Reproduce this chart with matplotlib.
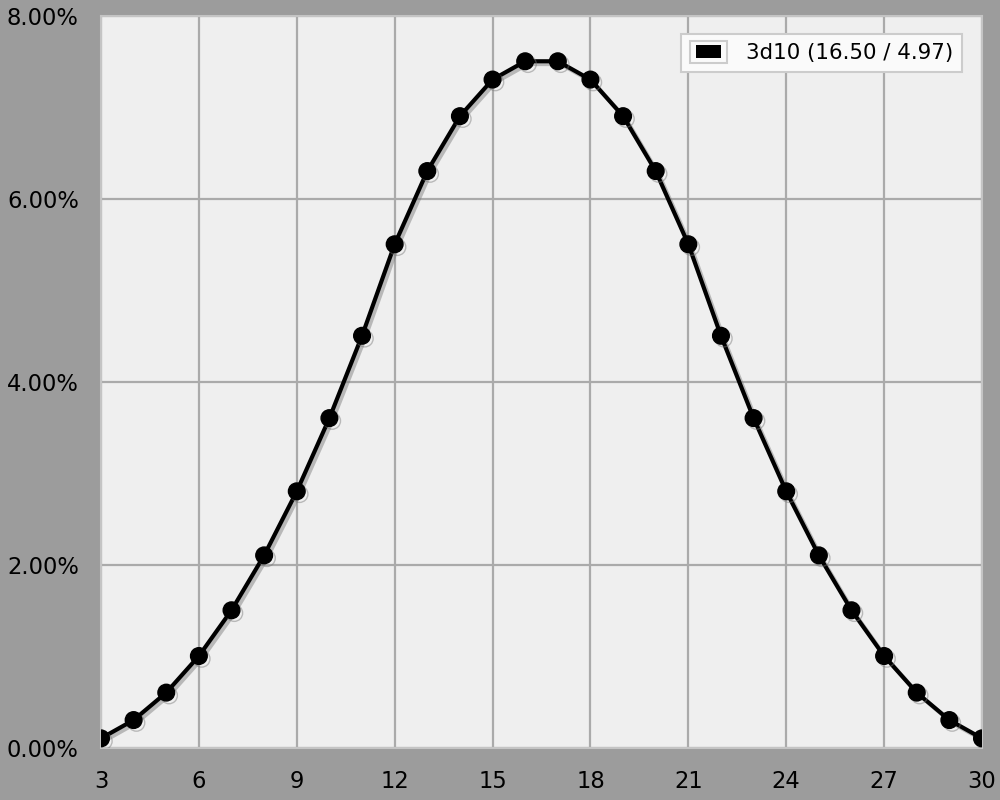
import matplotlib
matplotlib.use("Agg")
import matplotlib.pyplot as plt
import matplotlib.patheffects as pe
import matplotlib.patches as mpatches
from matplotlib.legend_handler import HandlerBase
from matplotlib.ticker import FuncFormatter

sums = list(range(3, 31))
pct = [0.1, 0.3, 0.6, 1.0, 1.5, 2.1, 2.8, 3.6, 4.5, 5.5, 6.3, 6.9, 7.3, 7.5,
       7.5, 7.3, 6.9, 6.3, 5.5, 4.5, 3.6, 2.8, 2.1, 1.5, 1.0, 0.6, 0.3, 0.1]
series_label = "3d10 (16.50 / 4.97)"
xticks = [3, 6, 9, 12, 15, 18, 21, 24, 27, 30]
yticks = [0, 2, 4, 6, 8]

plt.rcParams['font.family'] = ['DejaVu Sans']
fig = plt.figure(figsize=(10, 8), dpi=100, facecolor='#9c9c9c')
ax = fig.add_axes([0.101, 0.0656, 0.881, 0.915])
ax.set_facecolor('#efefef')

line, = ax.plot(sums, pct, color='black', lw=3, marker='o', markersize=12,
                label=series_label, zorder=3,
                path_effects=[pe.SimpleLineShadow(offset=(2, -2), shadow_color='#777777', alpha=0.45),
                              pe.Normal()])

ax.set_xlim(3, 30)
ax.set_ylim(0, 8)
ax.set_xticks(xticks)
ax.set_yticks(yticks)
ax.yaxis.set_major_formatter(FuncFormatter(lambda v, p: f"{v:.2f}%"))
ax.grid(True, color='#aaaaaa', lw=1.6, zorder=1)
ax.set_axisbelow(True)
for s in ax.spines.values():
    s.set_color('#c4c4c4')
    s.set_linewidth(1.5)
ax.tick_params(length=0, labelsize=16.3, colors='black')
ax.tick_params(axis='y', pad=67.7)
ax.tick_params(axis='x', pad=16)
for lab in ax.get_yticklabels():
    lab.set_horizontalalignment('left')


class BoxHandler(HandlerBase):
    def create_artists(self, legend, orig_handle, xdescent, ydescent, width, height, fontsize, trans):
        hh = height * 1.35
        y0 = -ydescent - (hh - height) / 2
        outer = mpatches.Rectangle((-xdescent, y0), width, hh,
                                   facecolor='#fafafa', edgecolor='#cccccc', lw=1.5, transform=trans)
        ix = width * 0.16
        iy = hh * 0.22
        inner = mpatches.Rectangle((-xdescent + ix, y0 + iy), width - 2 * ix, hh - 2 * iy,
                                   facecolor='black', edgecolor='none', transform=trans)
        return [outer, inner]


h = mpatches.Patch(facecolor='black')
leg = ax.legend([h], [series_label], loc='upper right', bbox_to_anchor=(0.977, 0.9747),
                fontsize=15.4, frameon=True, fancybox=False, handlelength=1.75,
                handleheight=0.8, handletextpad=0.85, borderpad=0.42, borderaxespad=0,
                handler_map={mpatches.Patch: BoxHandler()})
leg.get_frame().set_facecolor('#fafafa')
leg.get_frame().set_edgecolor('#cccccc')
leg.get_frame().set_linewidth(1.5)
leg.get_frame().set_alpha(1)

fig.savefig('out.png', dpi=100, facecolor=fig.get_facecolor())
